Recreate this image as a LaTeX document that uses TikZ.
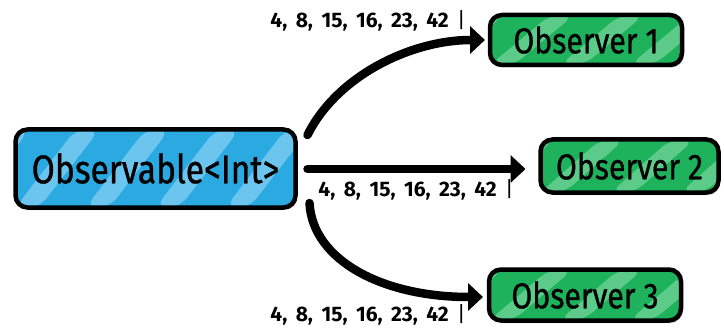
\documentclass[tikz,border=0pt]{standalone}
\usepackage{fontspec}
\newfontfamily\handfont[FakeStretch=0.84,FakeBold=0.8]{Fira Sans}
\newfontfamily\numfont{Fira Sans}
\usetikzlibrary{arrows.meta,calc,shadows}
\definecolor{blueA}{HTML}{2BA9E1}
\definecolor{blueB}{HTML}{6CC5EE}
\definecolor{greenA}{HTML}{1EB25C}
\definecolor{greenB}{HTML}{5CCB89}
\newcommand\gapsp{\hspace{8.5pt}}
\tikzset{
  sketchbox/.style 2 args={draw=black, line width=4.5pt, rounded corners=12pt,
    fill=#1, inner sep=0pt, outer sep=0pt,
    drop shadow={shadow xshift=1.5pt, shadow yshift=-2.5pt, opacity=0.25, fill=black},
    font=\handfont\fontsize{36}{40}\selectfont,
    path picture={
      \coordinate (sw) at (path picture bounding box.south west);
      \coordinate (ne) at (path picture bounding box.north east);
      \foreach \o in {-140,-70,...,420}{
        \fill[#2] ($(sw)+(\o,0)$) -- ($(sw)+(\o+24,0)$) -- ($(sw|-ne)+(\o+84,0)$) -- ($(sw|-ne)+(\o+60,0)$) -- cycle;
      }
    }},
  flow/.style={line width=8.5pt, line cap=round, -{Triangle[length=15pt,width=27pt]}},
  seq/.style={font=\numfont\bfseries\fontsize{21}{23}\selectfont, inner sep=0pt}
}
\begin{document}
\begin{tikzpicture}[x=1pt,y=-1pt]
\useasboundingbox (0,0) rectangle (724,329);
\node[sketchbox={blueA}{blueB}, minimum width=280, minimum height=78,
      font=\handfont\fontsize{40}{44}\selectfont] (obs) at (155.5,168.5) {Observable<Int>};
\node[sketchbox={greenA}{greenB}, minimum width=192, minimum height=50] (o1) at (586,40) {Observer 1};
\node[sketchbox={greenA}{greenB}, minimum width=178, minimum height=53] (o2) at (629.5,166) {Observer 2};
\node[sketchbox={greenA}{greenB}, minimum width=192, minimum height=51] (o3) at (585,295) {Observer 3};
\coordinate (s1) at ($(obs.east)+(12,-33.5)$);
\coordinate (s2) at ($(obs.east)+(12,0.5)$);
\coordinate (s3) at ($(obs.east)+(14,34.5)$);
\coordinate (e1) at ($(o1.west)+(-5,0)$);
\coordinate (e2) at ($(o2.west |- s2)+(-15,0)$);
\coordinate (e3) at ($(o3.west)+(-6,2)$);
\draw[flow] (s1) .. controls +(30,-60) and +(-73,0) .. (e1);
\draw[flow] (s2) -- (e2);
\draw[flow] (s3) .. controls +(3,57) and +(-101,0) .. (e3);
\node[seq] (l1) at (368,21) {4,\gapsp 8,\gapsp 15,\gapsp 16,\gapsp 23,\gapsp 42\gapsp\mdseries|};
\node[seq] (l2) at (416,190) {4,\gapsp 8,\gapsp 15,\gapsp 16,\gapsp 23,\gapsp 42\gapsp\mdseries|};
\node[seq] (l3) at (368,315) {4,\gapsp 8,\gapsp 15,\gapsp 16,\gapsp 23,\gapsp 42\gapsp\mdseries|};
\end{tikzpicture}
\end{document}
